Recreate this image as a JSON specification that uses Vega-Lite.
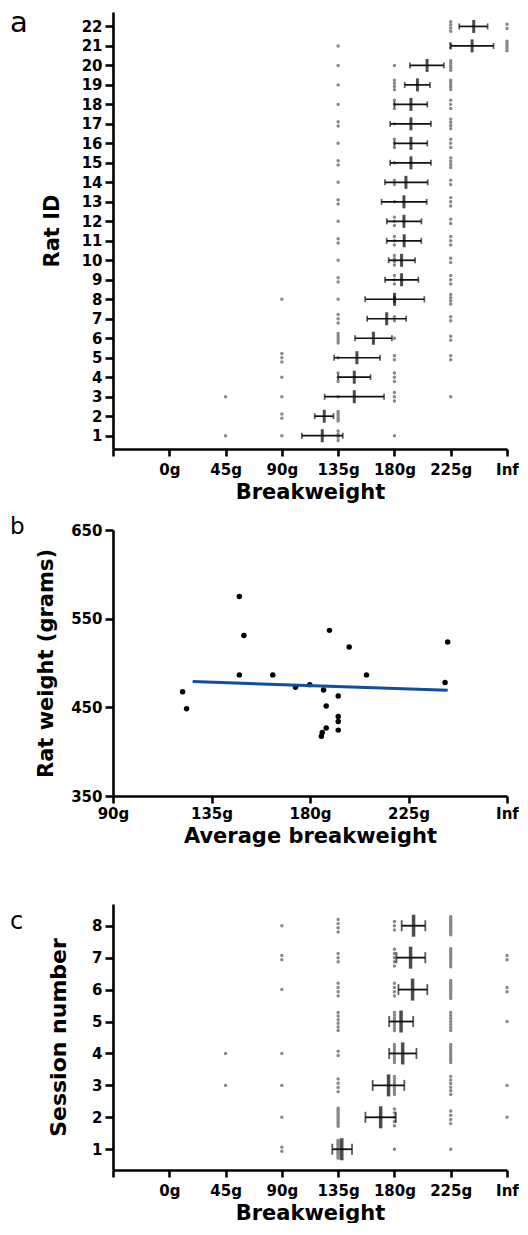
{
  "$schema": "https://vega.github.io/schema/vega-lite/v6.json",
  "padding": {"left": 10, "top": 9, "right": 0, "bottom": 0},
  "spacing": 14,
  "datasets": {
    "a_raw": [
      {"rat":1,"bw":45},{"rat":1,"bw":90},{"rat":1,"bw":135},{"rat":1,"bw":135},{"rat":1,"bw":135},{"rat":1,"bw":135},{"rat":1,"bw":180},
      {"rat":2,"bw":90},{"rat":2,"bw":90},{"rat":2,"bw":135},{"rat":2,"bw":135},{"rat":2,"bw":135},{"rat":2,"bw":135},{"rat":2,"bw":135},{"rat":2,"bw":135},
      {"rat":3,"bw":45},{"rat":3,"bw":90},{"rat":3,"bw":135},{"rat":3,"bw":180},{"rat":3,"bw":180},{"rat":3,"bw":180},{"rat":3,"bw":225},
      {"rat":4,"bw":90},{"rat":4,"bw":135},{"rat":4,"bw":135},{"rat":4,"bw":135},{"rat":4,"bw":180},{"rat":4,"bw":180},{"rat":4,"bw":180},
      {"rat":5,"bw":90},{"rat":5,"bw":90},{"rat":5,"bw":90},{"rat":5,"bw":135},{"rat":5,"bw":180},{"rat":5,"bw":180},{"rat":5,"bw":225},{"rat":5,"bw":225},
      {"rat":6,"bw":135},{"rat":6,"bw":135},{"rat":6,"bw":135},{"rat":6,"bw":135},{"rat":6,"bw":135},{"rat":6,"bw":180},{"rat":6,"bw":225},{"rat":6,"bw":225},
      {"rat":7,"bw":135},{"rat":7,"bw":135},{"rat":7,"bw":135},{"rat":7,"bw":180},{"rat":7,"bw":180},{"rat":7,"bw":225},{"rat":7,"bw":225},
      {"rat":8,"bw":90},{"rat":8,"bw":135},{"rat":8,"bw":180},{"rat":8,"bw":180},{"rat":8,"bw":225},{"rat":8,"bw":225},{"rat":8,"bw":225},{"rat":8,"bw":225},
      {"rat":9,"bw":135},{"rat":9,"bw":135},{"rat":9,"bw":180},{"rat":9,"bw":180},{"rat":9,"bw":180},{"rat":9,"bw":225},{"rat":9,"bw":225},{"rat":9,"bw":225},
      {"rat":10,"bw":135},{"rat":10,"bw":180},{"rat":10,"bw":180},{"rat":10,"bw":180},{"rat":10,"bw":180},{"rat":10,"bw":225},{"rat":10,"bw":225},
      {"rat":11,"bw":135},{"rat":11,"bw":135},{"rat":11,"bw":180},{"rat":11,"bw":180},{"rat":11,"bw":180},{"rat":11,"bw":225},{"rat":11,"bw":225},{"rat":11,"bw":225},
      {"rat":12,"bw":135},{"rat":12,"bw":180},{"rat":12,"bw":180},{"rat":12,"bw":180},{"rat":12,"bw":225},{"rat":12,"bw":225},
      {"rat":13,"bw":135},{"rat":13,"bw":135},{"rat":13,"bw":180},{"rat":13,"bw":225},{"rat":13,"bw":225},{"rat":13,"bw":225},
      {"rat":14,"bw":135},{"rat":14,"bw":180},{"rat":14,"bw":180},{"rat":14,"bw":225},{"rat":14,"bw":225},
      {"rat":15,"bw":135},{"rat":15,"bw":135},{"rat":15,"bw":180},{"rat":15,"bw":225},{"rat":15,"bw":225},{"rat":15,"bw":225},{"rat":15,"bw":225},
      {"rat":16,"bw":135},{"rat":16,"bw":180},{"rat":16,"bw":180},{"rat":16,"bw":180},{"rat":16,"bw":225},{"rat":16,"bw":225},{"rat":16,"bw":225},
      {"rat":17,"bw":135},{"rat":17,"bw":135},{"rat":17,"bw":180},{"rat":17,"bw":225},{"rat":17,"bw":225},{"rat":17,"bw":225},{"rat":17,"bw":225},
      {"rat":18,"bw":135},{"rat":18,"bw":180},{"rat":18,"bw":180},{"rat":18,"bw":180},{"rat":18,"bw":225},{"rat":18,"bw":225},{"rat":18,"bw":225},
      {"rat":19,"bw":135},{"rat":19,"bw":180},{"rat":19,"bw":180},{"rat":19,"bw":180},{"rat":19,"bw":180},{"rat":19,"bw":225},{"rat":19,"bw":225},{"rat":19,"bw":225},{"rat":19,"bw":225},{"rat":19,"bw":225},
      {"rat":20,"bw":135},{"rat":20,"bw":180},{"rat":20,"bw":225},{"rat":20,"bw":225},{"rat":20,"bw":225},{"rat":20,"bw":225},{"rat":20,"bw":225},
      {"rat":21,"bw":135},{"rat":21,"bw":225},{"rat":21,"bw":225},{"rat":21,"bw":270},{"rat":21,"bw":270},{"rat":21,"bw":270},{"rat":21,"bw":270},{"rat":21,"bw":270},
      {"rat":22,"bw":225},{"rat":22,"bw":225},{"rat":22,"bw":225},{"rat":22,"bw":225},{"rat":22,"bw":270},{"rat":22,"bw":270}
    ],
    "a_stats": [
      {"rat":22,"mean":243.4,"lo":231.8,"hi":254.5},
      {"rat":21,"mean":242.1,"lo":224.7,"hi":259.2},
      {"rat":20,"mean":206.1,"lo":192.4,"hi":219.5},
      {"rat":19,"mean":198.4,"lo":188.2,"hi":208.4},
      {"rat":18,"mean":193.2,"lo":180.0,"hi":206.3},
      {"rat":17,"mean":193.2,"lo":176.6,"hi":209.2},
      {"rat":16,"mean":193.2,"lo":180.0,"hi":206.3},
      {"rat":15,"mean":193.2,"lo":176.6,"hi":209.2},
      {"rat":14,"mean":189.2,"lo":172.4,"hi":206.6},
      {"rat":13,"mean":187.6,"lo":169.7,"hi":205.8},
      {"rat":12,"mean":187.6,"lo":173.9,"hi":201.6},
      {"rat":11,"mean":187.8,"lo":173.8,"hi":201.5},
      {"rat":10,"mean":185.7,"lo":175.4,"hi":196.5},
      {"rat":9,"mean":185.7,"lo":172.5,"hi":199.1},
      {"rat":8,"mean":180.1,"lo":156.6,"hi":203.9},
      {"rat":7,"mean":173.8,"lo":158.2,"hi":189.4},
      {"rat":6,"mean":163.2,"lo":148.5,"hi":178.0},
      {"rat":5,"mean":150.0,"lo":131.8,"hi":168.5},
      {"rat":4,"mean":147.9,"lo":135.0,"hi":160.9},
      {"rat":3,"mean":147.9,"lo":124.2,"hi":171.7},
      {"rat":2,"mean":123.9,"lo":116.3,"hi":131.3},
      {"rat":1,"mean":122.3,"lo":106.0,"hi":138.7}
    ],
    "b_points": [
      {"avg":121.8,"weight":467.7},{"avg":123.6,"weight":448.4},{"avg":147.7,"weight":574.9},{"avg":149.8,"weight":531.1},
      {"avg":147.7,"weight":486.6},{"avg":163.0,"weight":486.6},{"avg":173.4,"weight":472.7},{"avg":179.9,"weight":475.6},
      {"avg":186.2,"weight":469.6},{"avg":188.9,"weight":536.8},{"avg":197.9,"weight":518.0},{"avg":192.9,"weight":462.8},
      {"avg":187.4,"weight":451.5},{"avg":192.9,"weight":439.8},{"avg":192.9,"weight":434.1},{"avg":192.9,"weight":424.3},
      {"avg":187.4,"weight":426.6},{"avg":185.6,"weight":421.7},{"avg":185.2,"weight":417.5},{"avg":205.8,"weight":486.6},
      {"avg":242.9,"weight":523.6},{"avg":241.7,"weight":477.9}
    ],
    "b_fit": [
      {"avg":126.4,"weight":479.0},{"avg":242.9,"weight":469.3}
    ],
    "c_raw": [
      {"session":8,"bw":90},{"session":8,"bw":135},{"session":8,"bw":135},{"session":8,"bw":135},{"session":8,"bw":135},{"session":8,"bw":180},{"session":8,"bw":180},{"session":8,"bw":180},
      {"session":8,"bw":225},{"session":8,"bw":225},{"session":8,"bw":225},{"session":8,"bw":225},{"session":8,"bw":225},{"session":8,"bw":225},{"session":8,"bw":225},{"session":8,"bw":225},{"session":8,"bw":225},{"session":8,"bw":225},{"session":8,"bw":225},{"session":8,"bw":225},{"session":8,"bw":225},{"session":8,"bw":225},
      {"session":7,"bw":90},{"session":7,"bw":90},{"session":7,"bw":135},{"session":7,"bw":135},{"session":7,"bw":135},{"session":7,"bw":180},{"session":7,"bw":180},{"session":7,"bw":180},{"session":7,"bw":180},{"session":7,"bw":180},
      {"session":7,"bw":225},{"session":7,"bw":225},{"session":7,"bw":225},{"session":7,"bw":225},{"session":7,"bw":225},{"session":7,"bw":225},{"session":7,"bw":225},{"session":7,"bw":225},{"session":7,"bw":225},{"session":7,"bw":225},{"session":7,"bw":270},{"session":7,"bw":270},
      {"session":6,"bw":90},{"session":6,"bw":135},{"session":6,"bw":135},{"session":6,"bw":135},{"session":6,"bw":135},{"session":6,"bw":180},{"session":6,"bw":180},{"session":6,"bw":180},{"session":6,"bw":180},
      {"session":6,"bw":225},{"session":6,"bw":225},{"session":6,"bw":225},{"session":6,"bw":225},{"session":6,"bw":225},{"session":6,"bw":225},{"session":6,"bw":225},{"session":6,"bw":225},{"session":6,"bw":225},{"session":6,"bw":225},{"session":6,"bw":225},{"session":6,"bw":270},{"session":6,"bw":270},
      {"session":5,"bw":135},{"session":5,"bw":135},{"session":5,"bw":135},{"session":5,"bw":135},{"session":5,"bw":135},{"session":5,"bw":135},
      {"session":5,"bw":180},{"session":5,"bw":180},{"session":5,"bw":180},{"session":5,"bw":180},{"session":5,"bw":180},{"session":5,"bw":180},{"session":5,"bw":180},{"session":5,"bw":180},
      {"session":5,"bw":225},{"session":5,"bw":225},{"session":5,"bw":225},{"session":5,"bw":225},{"session":5,"bw":225},{"session":5,"bw":225},{"session":5,"bw":225},{"session":5,"bw":270},
      {"session":4,"bw":45},{"session":4,"bw":90},{"session":4,"bw":135},{"session":4,"bw":135},
      {"session":4,"bw":180},{"session":4,"bw":180},{"session":4,"bw":180},{"session":4,"bw":180},{"session":4,"bw":180},{"session":4,"bw":180},{"session":4,"bw":180},{"session":4,"bw":180},{"session":4,"bw":180},
      {"session":4,"bw":225},{"session":4,"bw":225},{"session":4,"bw":225},{"session":4,"bw":225},{"session":4,"bw":225},{"session":4,"bw":225},{"session":4,"bw":225},{"session":4,"bw":225},{"session":4,"bw":225},
      {"session":3,"bw":45},{"session":3,"bw":90},{"session":3,"bw":135},{"session":3,"bw":135},{"session":3,"bw":135},{"session":3,"bw":135},
      {"session":3,"bw":180},{"session":3,"bw":180},{"session":3,"bw":180},{"session":3,"bw":180},{"session":3,"bw":180},{"session":3,"bw":180},{"session":3,"bw":180},{"session":3,"bw":180},{"session":3,"bw":180},
      {"session":3,"bw":225},{"session":3,"bw":225},{"session":3,"bw":225},{"session":3,"bw":225},{"session":3,"bw":225},{"session":3,"bw":225},{"session":3,"bw":270},
      {"session":2,"bw":90},{"session":2,"bw":135},{"session":2,"bw":135},{"session":2,"bw":135},{"session":2,"bw":135},{"session":2,"bw":135},{"session":2,"bw":135},{"session":2,"bw":135},{"session":2,"bw":135},{"session":2,"bw":135},{"session":2,"bw":135},{"session":2,"bw":135},
      {"session":2,"bw":180},{"session":2,"bw":180},{"session":2,"bw":180},{"session":2,"bw":180},{"session":2,"bw":180},
      {"session":2,"bw":225},{"session":2,"bw":225},{"session":2,"bw":225},{"session":2,"bw":225},{"session":2,"bw":270},
      {"session":1,"bw":90},{"session":1,"bw":90},
      {"session":1,"bw":135},{"session":1,"bw":135},{"session":1,"bw":135},{"session":1,"bw":135},{"session":1,"bw":135},{"session":1,"bw":135},{"session":1,"bw":135},{"session":1,"bw":135},{"session":1,"bw":135},
      {"session":1,"bw":135},{"session":1,"bw":135},{"session":1,"bw":135},{"session":1,"bw":135},{"session":1,"bw":135},{"session":1,"bw":135},{"session":1,"bw":135},{"session":1,"bw":135},{"session":1,"bw":135},
      {"session":1,"bw":180},{"session":1,"bw":225}
    ],
    "c_stats": [
      {"session":8,"mean":195.3,"lo":185.8,"hi":204.7},
      {"session":7,"mean":192.9,"lo":181.6,"hi":204.7},
      {"session":6,"mean":194.5,"lo":183.2,"hi":206.3},
      {"session":5,"mean":185.3,"lo":175.8,"hi":195.0},
      {"session":4,"mean":186.6,"lo":175.8,"hi":197.6},
      {"session":3,"mean":175.3,"lo":162.6,"hi":187.9},
      {"session":2,"mean":169.0,"lo":156.8,"hi":181.1},
      {"session":1,"mean":137.9,"lo":130.3,"hi":146.1}
    ]
  },
  "vconcat": [
    {
      "width": 394,
      "height": 437,
      "title": {"text": "a", "fontSize": 29, "dx": -103, "dy": 30},
      "layer": [
        {
          "data": {"name": "a_raw"},
          "transform": [
            {"window": [{"op": "row_number", "as": "rk"}, {"op": "count", "as": "n"}], "groupby": ["rat", "bw"], "frame": [null, null]},
            {"calculate": "datum.rat - (datum.rk - (datum.n + 1) / 2) * min(4.2, 9.5 / (datum.n - 1)) / 19.48", "as": "ypos"}
          ],
          "mark": {"type": "circle", "size": 12, "color": "#888888", "opacity": 1},
          "encoding": {
            "x": {"field": "bw", "type": "quantitative", "scale": {"domain": [-45, 270], "nice": false, "zero": false},
                  "axis": {"title": "Breakweight", "values": [-45, 0, 45, 90, 135, 180, 225, 270], "tickCount": 30, "labelOverlap": false,
                           "labelExpr": "datum.value >= 270 ? 'Inf' : (datum.value < 0 ? '' : datum.value + 'g')"}},
            "y": {"field": "ypos", "type": "quantitative", "scale": {"domain": [0.317, 22.74], "nice": false, "zero": false},
                  "axis": {"title": "Rat ID", "values": [1,2,3,4,5,6,7,8,9,10,11,12,13,14,15,16,17,18,19,20,21,22], "tickCount": 30, "format": "d", "titlePadding": 19, "labelOverlap": false, "labelBound": false}}
          }
        },
        {
          "data": {"name": "a_stats"},
          "mark": {"type": "rule", "color": "#111111", "strokeWidth": 1.7},
          "encoding": {
            "x": {"field": "lo", "type": "quantitative"},
            "x2": {"field": "hi"},
            "y": {"field": "rat", "type": "quantitative"}
          }
        },
        {
          "data": {"name": "a_stats"},
          "mark": {"type": "tick", "orient": "vertical", "color": "#111111", "size": 6, "thickness": 1.7},
          "encoding": {
            "x": {"field": "lo", "type": "quantitative"},
            "y": {"field": "rat", "type": "quantitative"}
          }
        },
        {
          "data": {"name": "a_stats"},
          "mark": {"type": "tick", "orient": "vertical", "color": "#111111", "size": 6, "thickness": 1.7},
          "encoding": {
            "x": {"field": "hi", "type": "quantitative"},
            "y": {"field": "rat", "type": "quantitative"}
          }
        },
        {
          "data": {"name": "a_stats"},
          "mark": {"type": "tick", "orient": "vertical", "color": "#000000", "size": 13, "thickness": 3},
          "encoding": {
            "x": {"field": "mean", "type": "quantitative"},
            "y": {"field": "rat", "type": "quantitative"}
          }
        }
      ]
    },
    {
      "width": 394,
      "height": 266,
      "title": {"text": "b", "fontSize": 23, "dx": -103, "dy": 20},
      "layer": [
        {
          "data": {"name": "b_points"},
          "mark": {"type": "circle", "size": 30, "color": "#000000", "opacity": 1},
          "encoding": {
            "x": {"field": "avg", "type": "quantitative", "scale": {"domain": [90, 270], "nice": false, "zero": false},
                  "axis": {"title": ["Average breakweight", " "], "titleLineHeight": 44, "values": [90, 135, 180, 225, 270], "tickCount": 30, "labelPadding": 3, "labelOverlap": false,
                           "labelExpr": "datum.value >= 270 ? 'Inf' : datum.value + 'g'"}},
            "y": {"field": "weight", "type": "quantitative", "scale": {"domain": [350, 650], "nice": false, "zero": false},
                  "axis": {"title": "Rat weight (grams)", "values": [350, 450, 550, 650], "tickCount": 30, "titlePadding": 14, "labelOverlap": false, "labelBound": false}}
          }
        },
        {
          "data": {"name": "b_fit"},
          "mark": {"type": "line", "color": "#0f4f9f", "strokeWidth": 3},
          "encoding": {
            "x": {"field": "avg", "type": "quantitative"},
            "y": {"field": "weight", "type": "quantitative"}
          }
        }
      ]
    },
    {
      "width": 394,
      "height": 266,
      "title": {"text": "c", "fontSize": 24, "dx": -103, "dy": 34},
      "layer": [
        {
          "data": {"name": "c_raw"},
          "transform": [
            {"window": [{"op": "row_number", "as": "rk"}, {"op": "count", "as": "n"}], "groupby": ["session", "bw"], "frame": [null, null]},
            {"calculate": "datum.session - (datum.rk - (datum.n + 1) / 2) * min(4.2, 18 / (datum.n - 1)) / 31.9", "as": "ypos"}
          ],
          "mark": {"type": "circle", "size": 12, "color": "#888888", "opacity": 1},
          "encoding": {
            "x": {"field": "bw", "type": "quantitative", "scale": {"domain": [-45, 270], "nice": false, "zero": false},
                  "axis": {"title": "Breakweight", "values": [-45, 0, 45, 90, 135, 180, 225, 270], "tickCount": 30, "labelOverlap": false,
                           "labelExpr": "datum.value >= 270 ? 'Inf' : (datum.value < 0 ? '' : datum.value + 'g')"}},
            "y": {"field": "ypos", "type": "quantitative", "scale": {"domain": [0.35, 8.68], "nice": false, "zero": false},
                  "axis": {"title": "Session number", "titleFontSize": 22, "values": [1,2,3,4,5,6,7,8], "tickCount": 30, "format": "d", "titlePadding": 21, "labelOverlap": false, "labelBound": false}}
          }
        },
        {
          "data": {"name": "c_stats"},
          "mark": {"type": "rule", "color": "#111111", "strokeWidth": 1.8},
          "encoding": {
            "x": {"field": "lo", "type": "quantitative"},
            "x2": {"field": "hi"},
            "y": {"field": "session", "type": "quantitative"}
          }
        },
        {
          "data": {"name": "c_stats"},
          "mark": {"type": "tick", "orient": "vertical", "color": "#111111", "size": 11, "thickness": 1.8},
          "encoding": {
            "x": {"field": "lo", "type": "quantitative"},
            "y": {"field": "session", "type": "quantitative"}
          }
        },
        {
          "data": {"name": "c_stats"},
          "mark": {"type": "tick", "orient": "vertical", "color": "#111111", "size": 11, "thickness": 1.8},
          "encoding": {
            "x": {"field": "hi", "type": "quantitative"},
            "y": {"field": "session", "type": "quantitative"}
          }
        },
        {
          "data": {"name": "c_stats"},
          "mark": {"type": "tick", "orient": "vertical", "color": "#000000", "size": 22, "thickness": 3.5},
          "encoding": {
            "x": {"field": "mean", "type": "quantitative"},
            "y": {"field": "session", "type": "quantitative"}
          }
        }
      ]
    }
  ],
  "config": {
    "view": {"stroke": null},
    "title": {"anchor": "start", "frame": "group", "orient": "top", "offset": 0, "baseline": "alphabetic", "font": "DejaVu Sans", "fontWeight": "normal", "color": "#000000"},
    "axis": {
      "grid": false, "domainColor": "#000000", "domainWidth": 2.6, "tickColor": "#000000", "tickWidth": 2.6,
      "labelFont": "DejaVu Sans", "labelFontWeight": "bold", "labelFontSize": 15, "labelColor": "#000000",
      "titleFont": "DejaVu Sans", "titleFontWeight": "bold", "titleFontSize": 21, "titleColor": "#000000",
      "labelOverlap": false, "labelFlush": false
    },
    "axisX": {"tickSize": 7, "labelPadding": 6, "titlePadding": 4},
    "axisY": {"tickSize": 8, "labelPadding": 3}
  }
}
